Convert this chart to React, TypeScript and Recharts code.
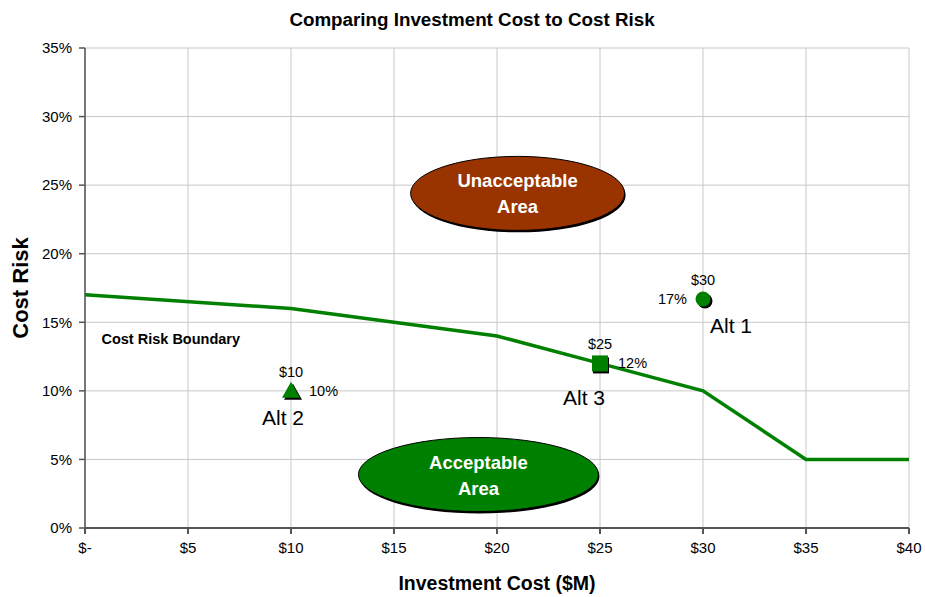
import { ComposedChart, Line, Scatter, XAxis, YAxis, CartesianGrid, ReferenceDot } from 'recharts';

const boundaryCost = [0, 10, 20, 25, 30, 35, 40];
const boundaryRisk = [17, 16, 14, 12, 10, 5, 5];

const altNames = ['Alt 1', 'Alt 2', 'Alt 3'];
const altCost = [30, 10, 25];
const altRisk = [16.7, 10, 12];
const altShapes = ['circle', 'triangle', 'square'];

const xTicks = [0, 5, 10, 15, 20, 25, 30, 35, 40];
const yTicks = [0, 5, 10, 15, 20, 25, 30, 35];

const boundaryData = boundaryCost.map((x, i) => ({ x, y: boundaryRisk[i] }));
const altData = altNames.map((name, i) => ({ name, x: altCost[i], y: altRisk[i], shape: altShapes[i] }));

const FONT = '"Liberation Sans", Arial, sans-serif';
const GREEN = '#008000';

function AltMarker(props: any) {
  const { cx, cy, payload } = props;
  const cost = `$${payload.x}`;
  const risk = `${Math.round(payload.y)}%`;
  let mark;
  let shadow;
  if (payload.shape === 'circle') {
    shadow = <circle cx={cx + 2} cy={cy + 2} r={7.5} fill="#000" />;
    mark = <circle cx={cx} cy={cy} r={7.5} fill={GREEN} />;
  } else if (payload.shape === 'square') {
    shadow = <rect x={cx - 7} y={cy - 6} width={16} height={16} fill="#000" />;
    mark = <rect x={cx - 8} y={cy - 8} width={16} height={16} fill={GREEN} />;
  } else {
    const tri = (dx: number, dy: number) =>
      `${cx + dx},${cy - 9 + dy} ${cx + 9 + dx},${cy + 7 + dy} ${cx - 9 + dx},${cy + 7 + dy}`;
    shadow = <polygon points={tri(2, 2)} fill="#000" />;
    mark = <polygon points={tri(0, 0)} fill={GREEN} />;
  }
  let riskX = cx + 18, riskAnchor = 'start', nameX = cx, nameAnchor = 'middle', nameY = cy + 34;
  if (payload.name === 'Alt 1') {
    riskX = cx - 16; riskAnchor = 'end'; nameX = cx + 7; nameAnchor = 'start'; nameY = cy + 34;
  } else if (payload.name === 'Alt 3') {
    nameX = cx - 16; nameY = cy + 42;
  } else {
    nameX = cx - 8;
  }
  return (
    <g fontFamily={FONT}>
      {shadow}
      {mark}
      <text x={cx} y={cy - 14} textAnchor="middle" fontSize={14.5} fill="#000">{cost}</text>
      <text x={riskX} y={cy + 5} textAnchor={riskAnchor} fontSize={14.5} fill="#000">{risk}</text>
      <text x={nameX} y={nameY} textAnchor={nameAnchor} fontSize={21} fill="#000">{payload.name}</text>
    </g>
  );
}

function AreaBubble(props: any, text: string[], fill: string, rx: number) {
  const { cx, cy } = props;
  return (
    <g fontFamily={FONT}>
      <ellipse cx={cx + 1} cy={cy + 2} rx={rx} ry={37} fill="#000" />
      <ellipse cx={cx} cy={cy} rx={rx} ry={37} fill={fill} stroke="#000" strokeWidth={1} />
      <text x={cx} y={cy - 6} textAnchor="middle" fontSize={18.5} fontWeight="bold" fill="#fff">{text[0]}</text>
      <text x={cx} y={cy + 20} textAnchor="middle" fontSize={18.5} fontWeight="bold" fill="#fff">{text[1]}</text>
    </g>
  );
}

export default function App() {
  return (
    <div style={{ position: 'absolute', left: 0, top: 0, width: 925, height: 597, background: '#fff' }}>
      <ComposedChart width={925} height={597} margin={{ top: 48, right: 16, bottom: 39, left: 35 }}>
        <CartesianGrid stroke="#c8c8c8" strokeWidth={1} />
        <XAxis
          type="number"
          dataKey="x"
          domain={[0, 40]}
          ticks={xTicks}
          tickFormatter={(v: number) => (v === 0 ? '$-' : `$${v}`)}
          stroke="#555"
          strokeWidth={2}
          tickSize={6}
          tick={{ fill: '#000', fontSize: 15, fontFamily: FONT }}
          tickMargin={8}
          height={30}
          allowDataOverflow
        />
        <YAxis
          type="number"
          dataKey="y"
          domain={[0, 35]}
          ticks={yTicks}
          tickFormatter={(v: number) => `${v}%`}
          stroke="#555"
          strokeWidth={1.5}
          tickSize={6}
          tickMargin={7}
          tick={{ fill: '#000', fontSize: 15, fontFamily: FONT }}
          width={50}
          allowDataOverflow
        />
        <Line
          data={boundaryData}
          dataKey="y"
          stroke={GREEN}
          strokeWidth={3.5}
          dot={false}
          isAnimationActive={false}
        />
        <Scatter data={altData} dataKey="y" shape={AltMarker} isAnimationActive={false} />
        <ReferenceDot
          x={21}
          y={24.4}
          shape={(p: any) => AreaBubble(p, ['Unacceptable', 'Area'], '#993300', 107)}
        />
        <ReferenceDot
          x={19.1}
          y={3.9}
          shape={(p: any) => AreaBubble(p, ['Acceptable', 'Area'], GREEN, 120)}
        />
        <ReferenceDot
          x={0.8}
          y={13.4}
          shape={(p: any) => (
            <text x={p.cx} y={p.cy} fontFamily={FONT} fontSize={14.5} fontWeight="bold" fill="#000">
              Cost Risk Boundary
            </text>
          )}
        />
        <text x={472} y={26} textAnchor="middle" fontFamily={FONT} fontSize={18.8} fontWeight="bold" fill="#000">
          Comparing Investment Cost to Cost Risk
        </text>
        <text
          x={28}
          y={288}
          textAnchor="middle"
          transform="rotate(-90 28 288)"
          fontFamily={FONT}
          fontSize={22}
          fontWeight="bold"
          fill="#000"
        >
          Cost Risk
        </text>
        <text x={497} y={590} textAnchor="middle" fontFamily={FONT} fontSize={19.5} fontWeight="bold" fill="#000">
          Investment Cost ($M)
        </text>
      </ComposedChart>
    </div>
  );
}
